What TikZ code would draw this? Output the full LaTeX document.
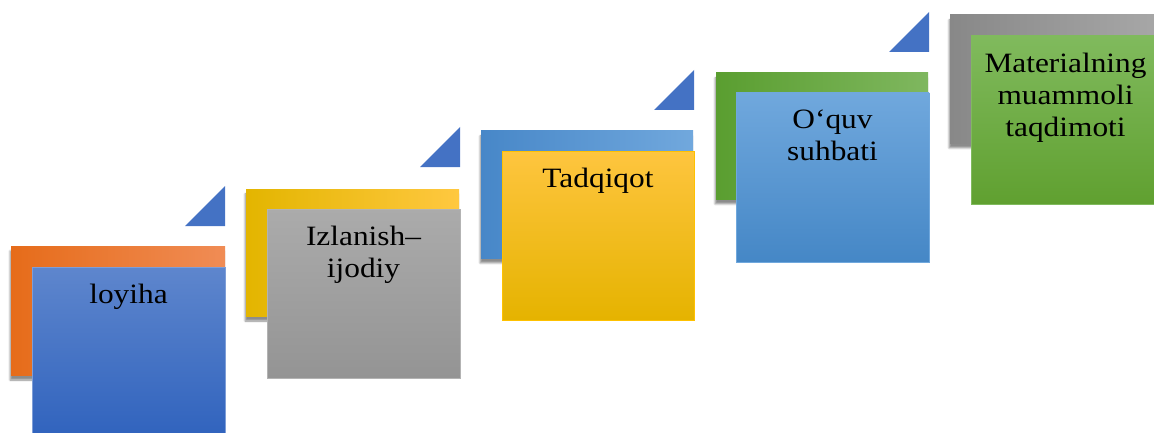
\documentclass[tikz,border=0pt]{standalone}
\usepackage{fontspec}
\setmainfont{Liberation Serif}[FakeStretch=1.12]
\usetikzlibrary{shadows.blur}
\definecolor{tri}{HTML}{4472C4}
\definecolor{orA}{HTML}{E66C1A}\definecolor{orB}{HTML}{F58634}\definecolor{orC}{HTML}{F08C55}
\definecolor{blA}{HTML}{5E86CD}\definecolor{blB}{HTML}{2F62BD}
\definecolor{yeA}{HTML}{E3B500}\definecolor{yeB}{HTML}{FFC300}\definecolor{yeC}{HTML}{FFC840}
\definecolor{grA}{HTML}{ABABAB}\definecolor{grB}{HTML}{949494}
\definecolor{lbA}{HTML}{4787C8}\definecolor{lbB}{HTML}{5B9DDA}\definecolor{lbC}{HTML}{71A8DD}
\definecolor{fyA}{HTML}{FEC53F}\definecolor{fyB}{HTML}{FFC100}\definecolor{fyC}{HTML}{E5B300}
\definecolor{gnA}{HTML}{5A9E30}\definecolor{gnB}{HTML}{6FB142}\definecolor{gnC}{HTML}{7FB75F}
\definecolor{fbA}{HTML}{70A8DD}\definecolor{fbB}{HTML}{4587C6}
\definecolor{dgA}{HTML}{888888}\definecolor{dgB}{HTML}{A8A8A8}
\definecolor{fgA}{HTML}{80BA5D}\definecolor{fgB}{HTML}{60A030}
\tikzset{
  backbox/.style={blur shadow={shadow xshift=-1pt, shadow yshift=-5pt, shadow blur steps=6, shadow opacity=45}},
  frontbox/.style={line width=0.8pt},
  lbl/.style={anchor=north, inner sep=0pt, align=center, font=\fontsize{28}{31.7}\selectfont, text=black},
  triang/.style={fill=tri}
}
\begin{document}
\begin{tikzpicture}[x=1pt,y=1pt]
\useasboundingbox (0,0) rectangle (1154,432);
\clip (0,0) rectangle (1154,432);
% ---- group 1
\fill[triang] (185,206) -- (225,246) -- (225,206) -- cycle;
\shade[backbox, left color=orA, middle color=orB, right color=orC] (11,57) rectangle (225,186);
\shade[frontbox, top color=blA, bottom color=blB, draw=blA!80!white] (32,-10) rectangle (225,165);
\node[lbl] (n1) at (128.5,148) {loyiha};
% ---- group 2
\fill[triang] (420,265) -- (460,305) -- (460,265) -- cycle;
\shade[backbox, left color=yeA, middle color=yeB, right color=yeC] (246,116) rectangle (459,243);
\shade[frontbox, top color=grA, bottom color=grB, draw=grA!90!white] (267,54) rectangle (460,223);
\node[lbl] (n2) at (363.5,206) {Izlanish–\\ijodiy};
% ---- group 3
\fill[triang] (654,322) -- (694,362) -- (694,322) -- cycle;
\shade[backbox, left color=lbA, middle color=lbB, right color=lbC] (481,174) rectangle (693,301);
\shade[frontbox, top color=fyA, middle color=fyB, bottom color=fyC, draw=fyB] (502,112) rectangle (694,281);
\node[lbl] (n3) at (598,264) {Tadqiqot};
% ---- group 4
\fill[triang] (889,380) -- (929,420) -- (929,380) -- cycle;
\shade[backbox, left color=gnA, middle color=gnB, right color=gnC] (716,233) rectangle (928,359);
\shade[frontbox, top color=fbA, bottom color=fbB, draw=fbA] (736,170) rectangle (929,339);
\node[lbl] (n4) at (832.5,322) {O‘quv\\suhbati};
% ---- group 5
\shade[backbox, left color=dgA, right color=dgB] (950,289) rectangle (1163,417);
\shade[frontbox, top color=fgA, bottom color=fgB, draw=fgA] (971,228) rectangle (1164,396);
\node[lbl] (n5) at (1065.5,379) {Materialning\\muammoli\\taqdimoti};
\end{tikzpicture}
\end{document}
